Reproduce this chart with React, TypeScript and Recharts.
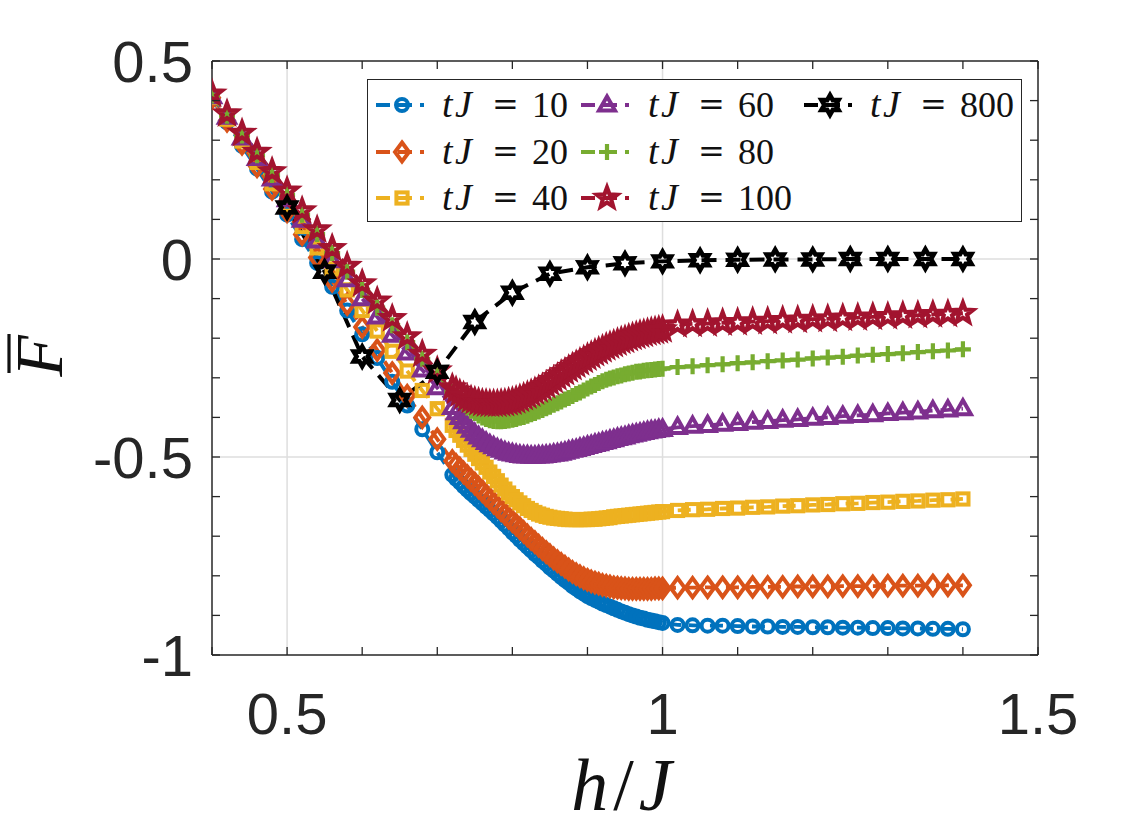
import React from "react";
import { ComposedChart, Line, XAxis, YAxis, CartesianGrid, ReferenceLine, Legend } from "recharts";

// h/J grid: coarse start, dense middle, coarse tail
const hEarly = [0.4, 0.42, 0.44, 0.46, 0.48, 0.5, 0.52, 0.54, 0.56, 0.58, 0.6, 0.62, 0.64, 0.66, 0.68, 0.7];
const hDense = [
  0.72, 0.725, 0.73, 0.735, 0.74, 0.745, 0.75, 0.755, 0.76, 0.765,
  0.77, 0.775, 0.78, 0.785, 0.79, 0.795, 0.8, 0.805, 0.81, 0.815,
  0.82, 0.825, 0.83, 0.835, 0.84, 0.845, 0.85, 0.855, 0.86, 0.865,
  0.87, 0.875, 0.88, 0.885, 0.89, 0.895, 0.9, 0.905, 0.91, 0.915,
  0.92, 0.925, 0.93, 0.935, 0.94, 0.945, 0.95, 0.955, 0.96, 0.965,
  0.97, 0.975, 0.98, 0.985, 0.99, 0.995, 1.0,
];
const hLate = [1.02, 1.04, 1.06, 1.08, 1.1, 1.12, 1.14, 1.16, 1.18, 1.2, 1.22, 1.24, 1.26, 1.28, 1.3, 1.32, 1.34, 1.36, 1.38, 1.4];
const hBlack = [0.5, 0.55, 0.6, 0.65, 0.7, 0.75, 0.8, 0.85, 0.9, 0.95, 1.0, 1.05, 1.1, 1.15, 1.2, 1.25, 1.3, 1.35, 1.4];

// tJ = 10
const f10 = [
  0.405, 0.345, 0.286, 0.228, 0.17, 0.112, 0.05, -0.01, -0.07, -0.13, -0.19, -0.25, -0.31, -0.37, -0.43, -0.488,
  -0.545, -0.555, -0.564, -0.574, -0.583, -0.592, -0.6, -0.609, -0.617, -0.626,
  -0.634, -0.643, -0.652, -0.661, -0.671, -0.68, -0.69, -0.699, -0.709, -0.718,
  -0.727, -0.736, -0.745, -0.753, -0.762, -0.77, -0.779, -0.787, -0.795, -0.803,
  -0.811, -0.818, -0.826, -0.832, -0.839, -0.845, -0.851, -0.856, -0.861, -0.865,
  -0.87, -0.874, -0.878, -0.882, -0.886, -0.89, -0.893, -0.897, -0.9, -0.903,
  -0.906, -0.908, -0.911, -0.913, -0.915, -0.917, -0.919,
  -0.924, -0.925, -0.926, -0.926, -0.927, -0.928, -0.928, -0.929, -0.929, -0.93,
  -0.93, -0.931, -0.931, -0.932, -0.932, -0.933, -0.933, -0.934, -0.934, -0.935,
];
// tJ = 20
const f20 = [
  0.407, 0.349, 0.291, 0.234, 0.177, 0.12, 0.062, 0.004, -0.055, -0.114, -0.172, -0.23, -0.288, -0.345, -0.4, -0.455,
  -0.51, -0.52, -0.529, -0.539, -0.548, -0.558, -0.567, -0.577, -0.586, -0.596,
  -0.605, -0.615, -0.624, -0.634, -0.643, -0.653, -0.662, -0.671, -0.68, -0.689,
  -0.698, -0.707, -0.715, -0.724, -0.732, -0.74, -0.748, -0.756, -0.763, -0.77,
  -0.777, -0.784, -0.79, -0.796, -0.801, -0.806, -0.81, -0.814, -0.817, -0.82,
  -0.823, -0.825, -0.827, -0.829, -0.83, -0.831, -0.832, -0.833, -0.833, -0.833,
  -0.833, -0.833, -0.833, -0.833, -0.832, -0.832, -0.832,
  -0.83, -0.83, -0.829, -0.829, -0.829, -0.828, -0.828, -0.828, -0.827, -0.827,
  -0.827, -0.826, -0.826, -0.826, -0.825, -0.825, -0.825, -0.824, -0.824, -0.824,
];
// tJ = 40
const f40 = [
  0.408, 0.353, 0.298, 0.244, 0.19, 0.136, 0.082, 0.028, -0.025, -0.078, -0.13, -0.182, -0.233, -0.283, -0.332, -0.378,
  -0.42, -0.433, -0.445, -0.458, -0.47, -0.481, -0.493, -0.504, -0.515, -0.526,
  -0.538, -0.549, -0.56, -0.571, -0.581, -0.591, -0.6, -0.608, -0.616, -0.623,
  -0.63, -0.635, -0.64, -0.644, -0.647, -0.65, -0.652, -0.654, -0.655, -0.656,
  -0.657, -0.658, -0.658, -0.658, -0.658, -0.658, -0.658, -0.657, -0.657, -0.656,
  -0.655, -0.654, -0.653, -0.651, -0.65, -0.649, -0.648, -0.647, -0.646, -0.645,
  -0.644, -0.643, -0.642, -0.641, -0.64, -0.639, -0.638,
  -0.635, -0.633, -0.632, -0.63, -0.629, -0.627, -0.626, -0.624, -0.623, -0.621,
  -0.62, -0.618, -0.617, -0.615, -0.614, -0.612, -0.611, -0.609, -0.608, -0.606,
];
// tJ = 60
const f60 = [
  0.41, 0.358, 0.306, 0.254, 0.202, 0.15, 0.098, 0.046, -0.004, -0.052, -0.1, -0.146, -0.192, -0.237, -0.28, -0.325,
  -0.375, -0.388, -0.4, -0.411, -0.422, -0.432, -0.441, -0.449, -0.456, -0.463,
  -0.469, -0.474, -0.479, -0.483, -0.487, -0.49, -0.492, -0.494, -0.496, -0.497,
  -0.497, -0.498, -0.498, -0.497, -0.497, -0.496, -0.495, -0.493, -0.492, -0.49,
  -0.488, -0.485, -0.483, -0.481, -0.478, -0.476, -0.473, -0.471, -0.468, -0.466,
  -0.463, -0.461, -0.458, -0.456, -0.453, -0.451, -0.449, -0.446, -0.444, -0.442,
  -0.44, -0.438, -0.436, -0.434, -0.433, -0.431, -0.43,
  -0.425, -0.422, -0.42, -0.417, -0.415, -0.412, -0.41, -0.407, -0.405, -0.402,
  -0.4, -0.397, -0.395, -0.393, -0.39, -0.388, -0.386, -0.383, -0.381, -0.378,
];
// tJ = 80
const f80 = [
  0.413, 0.362, 0.312, 0.262, 0.212, 0.162, 0.112, 0.063, 0.015, -0.032, -0.078, -0.123, -0.167, -0.21, -0.252, -0.292,
  -0.335, -0.346, -0.356, -0.366, -0.375, -0.383, -0.389, -0.395, -0.4, -0.404,
  -0.407, -0.409, -0.41, -0.41, -0.409, -0.408, -0.406, -0.404, -0.401, -0.399,
  -0.396, -0.392, -0.389, -0.385, -0.381, -0.377, -0.373, -0.368, -0.364, -0.36,
  -0.355, -0.351, -0.346, -0.341, -0.337, -0.332, -0.327, -0.322, -0.318, -0.313,
  -0.309, -0.305, -0.302, -0.299, -0.296, -0.294, -0.291, -0.289, -0.287, -0.285,
  -0.284, -0.282, -0.281, -0.28, -0.279, -0.278, -0.277,
  -0.273, -0.271, -0.268, -0.266, -0.263, -0.261, -0.258, -0.256, -0.254, -0.251,
  -0.249, -0.247, -0.244, -0.242, -0.24, -0.238, -0.235, -0.233, -0.231, -0.228,
];
// tJ = 100
const f100 = [
  0.417, 0.367, 0.318, 0.27, 0.221, 0.172, 0.122, 0.074, 0.027, -0.018, -0.062, -0.106, -0.15, -0.196, -0.24, -0.282,
  -0.325, -0.333, -0.34, -0.346, -0.352, -0.356, -0.359, -0.362, -0.364, -0.365,
  -0.366, -0.366, -0.366, -0.365, -0.364, -0.362, -0.36, -0.357, -0.353, -0.349,
  -0.345, -0.34, -0.335, -0.33, -0.325, -0.319, -0.312, -0.306, -0.299, -0.292,
  -0.286, -0.279, -0.273, -0.267, -0.261, -0.255, -0.249, -0.244, -0.238, -0.233,
  -0.228, -0.223, -0.219, -0.215, -0.211, -0.207, -0.204, -0.2, -0.197, -0.194,
  -0.191, -0.189, -0.186, -0.184, -0.182, -0.18, -0.178,
  -0.166, -0.164, -0.163, -0.161, -0.16, -0.158, -0.157, -0.155, -0.154, -0.152,
  -0.151, -0.149, -0.148, -0.146, -0.145, -0.143, -0.142, -0.14, -0.139, -0.137,
];
// tJ = 800
const f800 = [0.13, -0.032, -0.246, -0.356, -0.285, -0.159, -0.085, -0.037, -0.021, -0.011, -0.006, -0.003, -0.002, -0.001, -0.001, 0, 0, 0, 0];

const xTicks = [0.4, 0.5, 0.6, 0.7, 0.8, 0.9, 1, 1.1, 1.2, 1.3, 1.4, 1.5];
const yTicks = [-1, -0.9, -0.8, -0.7, -0.6, -0.5, -0.4, -0.3, -0.2, -0.1, 0, 0.1, 0.2, 0.3, 0.4, 0.5];

const hAll = [...hEarly, ...hDense, ...hLate];
const rows = hAll.map((h, i) => ({
  h,
  t10: f10[i],
  t20: f20[i],
  t40: f40[i],
  t60: f60[i],
  t80: f80[i],
  t100: f100[i],
}));
const blackRows = hBlack.map((h, i) => ({ h, t800: f800[i] }));

// plot box in page pixels
const LEFT = 212;
const RIGHT = 1038;
const TOP = 61;
const BOTTOM = 655;
const W = 1146;
const H = 834;

const AXIS = "#262626";
const TICK_LEN = 8;

type Kind = "circle" | "diamond" | "square" | "triangle" | "plus" | "star5" | "star6";

const series: { key: string; label: string; color: string; kind: Kind }[] = [
  { key: "t10", label: "10", color: "#0072BD", kind: "circle" },
  { key: "t20", label: "20", color: "#D95319", kind: "diamond" },
  { key: "t40", label: "40", color: "#EDB120", kind: "square" },
  { key: "t60", label: "60", color: "#7E2F8E", kind: "triangle" },
  { key: "t80", label: "80", color: "#77AC30", kind: "plus" },
  { key: "t100", label: "100", color: "#A2142F", kind: "star5" },
];

function starPoints(cx: number, cy: number, n: number, R: number, r: number) {
  const pts: string[] = [];
  for (let k = 0; k < 2 * n; k++) {
    const a = -Math.PI / 2 + (k * Math.PI) / n;
    const rad = k % 2 === 0 ? R : r;
    pts.push(`${cx + rad * Math.cos(a)},${cy + rad * Math.sin(a)}`);
  }
  return pts.join(" ");
}

function Marker({ kind, cx, cy, color }: { kind: Kind; cx: number; cy: number; color: string }) {
  if (cx == null || cy == null || isNaN(cx) || isNaN(cy)) return null;
  const common = { fill: "none", stroke: color, strokeWidth: 4 };
  switch (kind) {
    case "circle":
      return <circle cx={cx} cy={cy} r={6} {...common} />;
    case "diamond":
      return (
        <polygon
          points={`${cx},${cy - 9.5} ${cx + 7},${cy} ${cx},${cy + 9.5} ${cx - 7},${cy}`}
          {...common}
        />
      );
    case "square":
      return <rect x={cx - 5.6} y={cy - 5.6} width={11.2} height={11.2} {...common} />;
    case "triangle":
      return <polygon points={`${cx},${cy - 8.5} ${cx + 8},${cy + 5.6} ${cx - 8},${cy + 5.6}`} {...common} />;
    case "plus":
      return (
        <path d={`M${cx - 8},${cy}H${cx + 8}M${cx},${cy - 8}V${cy + 8}`} stroke={color} strokeWidth={4.2} fill="none" />
      );
    case "star5":
      return <polygon points={starPoints(cx, cy, 5, 10.5, 4.4)} {...common} strokeWidth={4.2} />;
    case "star6":
      return <polygon points={starPoints(cx, cy, 6, 9.8, 5.6)} {...common} strokeWidth={4.6} />;
  }
  return null;
}

const dotFor = (kind: Kind, color: string) => (p: any) =>
  <Marker key={`${kind}-${p.index}`} kind={kind} cx={p.cx} cy={p.cy} color={color} />;

const isMajor = (v: number) => Math.abs(v * 2 - Math.round(v * 2)) < 1e-9;

const XTick = (props: any) => {
  const { x, payload } = props;
  const v = payload.value as number;
  return (
    <g>
      <line x1={x} y1={BOTTOM} x2={x} y2={BOTTOM - TICK_LEN} stroke={AXIS} strokeWidth={1.3} />
      <line x1={x} y1={TOP} x2={x} y2={TOP + TICK_LEN} stroke={AXIS} strokeWidth={1.3} />
      {isMajor(v) && v >= 0.5 && (
        <text x={x} y={734} textAnchor="middle" fontFamily="Liberation Sans" fontSize={58} fill={AXIS}>
          {String(v)}
        </text>
      )}
    </g>
  );
};

const YTick = (props: any) => {
  const { y, payload } = props;
  const v = payload.value as number;
  return (
    <g>
      <line x1={LEFT} y1={y} x2={LEFT + TICK_LEN} y2={y} stroke={AXIS} strokeWidth={1.3} />
      <line x1={RIGHT} y1={y} x2={RIGHT - TICK_LEN} y2={y} stroke={AXIS} strokeWidth={1.3} />
      {isMajor(v) && (
        <text x={193} y={y + 21} textAnchor="end" fontFamily="Liberation Sans" fontSize={58} fill={AXIS}>
          {String(v)}
        </text>
      )}
    </g>
  );
};

const XTitle = () => (
  <text x={624} y={810} textAnchor="middle" fontFamily="Liberation Serif" fontSize={74} letterSpacing={5} fill="#111">
    <tspan fontStyle="italic">h</tspan>
    <tspan>/</tspan>
    <tspan fontStyle="italic">J</tspan>
  </text>
);

const YTitle = () => (
  <g transform="rotate(-90 37 356)">
    <text x={37} y={381} textAnchor="middle" fontFamily="Liberation Serif" fontStyle="italic" fontSize={68} fill="#111">
      F
    </text>
    <line x1={20} y1={328} x2={59} y2={328} stroke="#111" strokeWidth={3.2} />
  </g>
);

const legendCols = [
  { lineX: 8, textX: 75 },
  { lineX: 213, textX: 281 },
  { lineX: 436, textX: 503 },
];
const legendRows = [25, 72, 118];
const legendItems: { label: string; color: string; kind: Kind; col: number; row: number }[] = [
  ...series.map((s, i) => ({ label: s.label, color: s.color, kind: s.kind, col: Math.floor(i / 3), row: i % 3 })),
  { label: "800", color: "#000000", kind: "star6", col: 2, row: 0 },
];

const LegendBox = () => (
  <div style={{ width: 655, height: 143, border: `1.5px solid ${AXIS}`, background: "#fff", boxSizing: "border-box" }}>
    <svg width={652} height={140} style={{ display: "block" }}>
      {legendItems.map((it) => {
        const c = legendCols[it.col];
        const cy = legendRows[it.row];
        return (
          <g key={it.label}>
            <line x1={c.lineX} y1={cy} x2={c.lineX + 48} y2={cy} stroke={it.color} strokeWidth={3.8} strokeDasharray="14 8" />
            <Marker kind={it.kind} cx={c.lineX + 26} cy={cy} color={it.color} />
            <text y={cy + 12} fontFamily="Liberation Serif" fill="#111">
              <tspan x={c.textX - 1} fontSize={38} fontStyle="italic">t</tspan>
              <tspan x={c.textX + 12} fontSize={38} fontStyle="italic">J</tspan>
            </text>
            <text x={c.textX + 49} y={cy + 10} fontFamily="DejaVu Serif" fontSize={32} fill="#111">=</text>
            <text x={c.textX + 89} y={cy + 12} fontFamily="Liberation Serif" fontSize={36} fill="#111">{it.label}</text>
          </g>
        );
      })}
    </svg>
  </div>
);

export default function App() {
  return (
    <div style={{ position: "absolute", left: 0, top: 0, width: W, height: H, background: "#fff" }}>
      <ComposedChart
        width={W}
        height={H}
        data={rows}
        margin={{ top: TOP, right: W - RIGHT, bottom: 0, left: 0 }}
      >
        <CartesianGrid
          horizontalValues={[0, -0.5]}
          verticalValues={[0.5, 1]}
          stroke="#dedede"
          strokeWidth={1.5}
        />
        <XAxis
          dataKey="h"
          type="number"
          domain={[0.4, 1.5]}
          allowDataOverflow
          ticks={xTicks}
          interval={0}
          tick={<XTick />}
          tickLine={false}
          axisLine={{ stroke: AXIS, strokeWidth: 1.5 }}
          height={H - BOTTOM}
          label={{ content: XTitle }}
        />
        <YAxis
          type="number"
          domain={[-1, 0.5]}
          allowDataOverflow
          ticks={yTicks}
          interval={0}
          tick={<YTick />}
          tickLine={false}
          axisLine={{ stroke: AXIS, strokeWidth: 1.5 }}
          width={LEFT}
          label={{ content: YTitle }}
        />
        <ReferenceLine y={0.5} stroke={AXIS} strokeWidth={1.5} />
        <ReferenceLine x={1.5} stroke={AXIS} strokeWidth={1.5} />
        {series.map((s) => (
          <Line
            key={s.key}
            type="linear"
            dataKey={s.key}
            stroke={s.color}
            strokeWidth={3.8}
            strokeDasharray="13 8"
            dot={dotFor(s.kind, s.color)}
            activeDot={false}
            isAnimationActive={false}
          />
        ))}
        <Line
          data={blackRows}
          type="linear"
          dataKey="t800"
          stroke="#000000"
          strokeWidth={4}
          strokeDasharray="15 9"
          dot={dotFor("star6", "#000000")}
          activeDot={false}
          isAnimationActive={false}
        />
        <Legend
          content={() => <LegendBox />}
          layout="horizontal"
          verticalAlign="middle"
          align="center"
          wrapperStyle={{ left: 367, top: 79, width: 655, height: 143 }}
        />
      </ComposedChart>
    </div>
  );
}
